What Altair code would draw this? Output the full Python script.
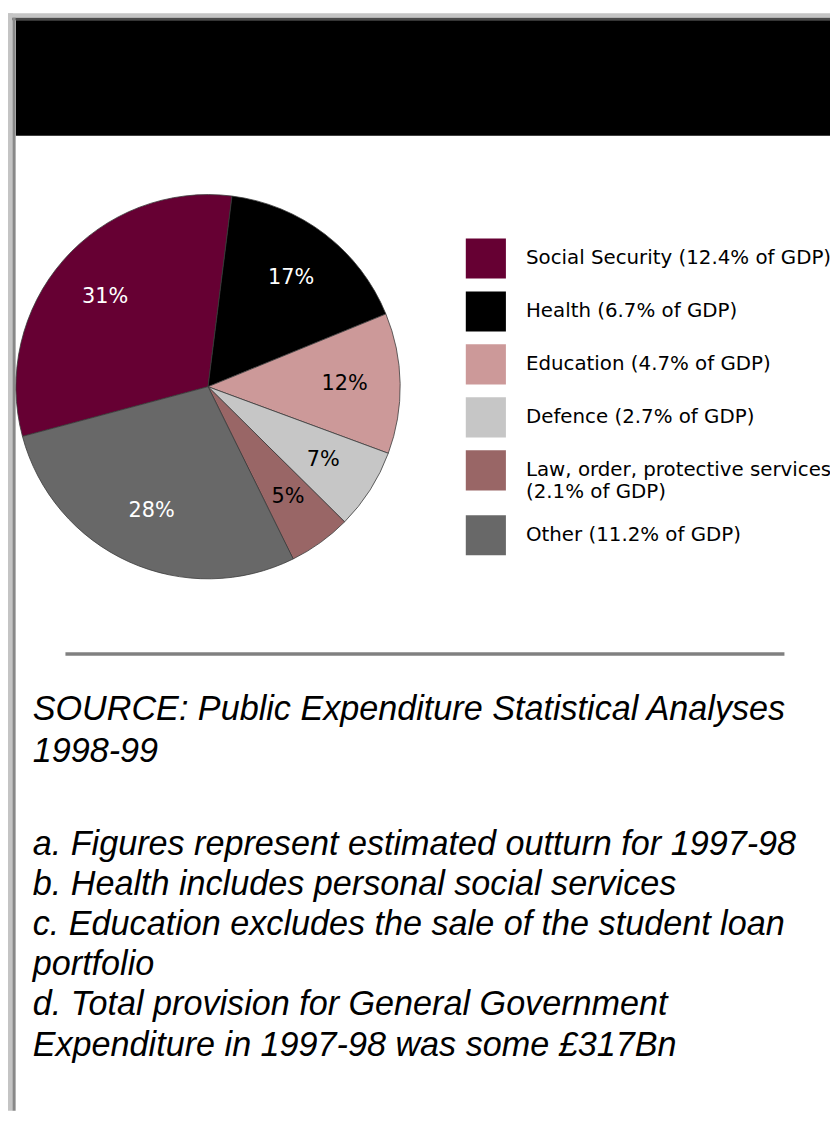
import math
import altair as alt
import pandas as pd

# ---- data ----
categories = [
    "Social Security",
    "Health",
    "Education",
    "Defence",
    "Law, order, protective services",
    "Other",
]
gdp_share = [12.4, 6.7, 4.7, 2.7, 2.1, 11.2]          # % of GDP (legend)
slice_colors = ["#660033", "#000000", "#cc9999", "#c6c6c6", "#996666", "#686868"]
source_lines = ["SOURCE: Public Expenditure Statistical Analyses", "1998-99"]
note_lines = [
    "a. Figures represent estimated outturn for 1997-98",
    "b. Health includes personal social services",
    "c. Education excludes the sale of the student loan",
    "portfolio",
    "d. Total provision for General Government",
    "Expenditure in 1997-98 was some £317Bn",
]

legend_labels = [f"{c} ({g}% of GDP)" for c, g in zip(categories, gdp_share)]
pie_df = pd.DataFrame({
    "category": categories,
    "gdp": gdp_share,
    "label": legend_labels,
    "idx": list(range(len(categories))),
})

W, H = 830, 1108
START = math.radians(255)
one = pd.DataFrame({"k": [0]})

# ---- pie ----
base = (
    alt.Chart(pie_df)
    .transform_joinaggregate(total="sum(gdp)")
    .transform_calculate(pct="toString(round(datum.gdp / datum.total * 100)) + '%'")
    .encode(
        theta=alt.Theta("gdp:Q", stack=True,
                        scale=alt.Scale(range=[START, START + 2 * math.pi])),
        order=alt.Order("idx:Q"),
    )
)

arcs = base.mark_arc(outerRadius=194, stroke="#3a3a3a", strokeWidth=0.8).encode(
    x=alt.value(202),
    y=alt.value(377),
    color=alt.Color(
        "label:N",
        scale=alt.Scale(domain=legend_labels, range=slice_colors),
        legend=alt.Legend(
            title=None,
            orient="none",
            legendX=462,
            legendY=227,
            padding=0,
            symbolType="square",
            symbolSize=1640,
            symbolStrokeWidth=0,
            symbolOpacity=1,
            labelFont="DejaVu Sans",
            labelFontSize=20,
            labelColor="#000000",
            labelOffset=20,
            labelLimit=400,
            rowPadding=12.5,
            labelExpr=(
                "length(datum.label) > 32 ? "
                "[slice(datum.label, 0, indexof(datum.label, ' (')), "
                "slice(datum.label, indexof(datum.label, ' (') + 1)] : datum.label"
            ),
        ),
    ),
)

pct_text = base.mark_text(radius=138, font="DejaVu Sans", fontSize=21).encode(
    x=alt.value(202),
    y=alt.value(377),
    text="pct:N",
    color=alt.condition(
        "indexof(['Social Security', 'Health', 'Other'], datum.category) >= 0",
        alt.value("#ffffff"),
        alt.value("#000000"),
    ),
)

# ---- page decorations ----
def box(x, x2, y, y2, color):
    return alt.Chart(one).mark_rect(color=color).encode(
        x=alt.value(x), x2=alt.value(x2), y=alt.value(y), y2=alt.value(y2)
    )

frame = [
    box(0, 5, 0, H, "#c4c4c4"),
    box(0, W, 0, 4.5, "#c4c4c4"),
    box(4.5, W, 4.5, 7, "#4a4a4a"),
    box(4.7, 7.7, 4.5, H, "#888888"),
    box(8, W, 7, 123.5, "#000000"),
]

rule = alt.Chart(one).mark_rule(color="#808080", strokeWidth=3.5).encode(
    x=alt.value(58), x2=alt.value(784), y=alt.value(647)
)

def text_block(lines, y, line_height):
    d = pd.DataFrame({"txt": ["\n".join(lines)]})
    return alt.Chart(d).mark_text(
        align="left", baseline="alphabetic", lineBreak="\n",
        font="Liberation Sans", fontStyle="italic", fontSize=34.5,
        lineHeight=line_height, color="#000000",
    ).encode(x=alt.value(25), y=alt.value(y), text="txt:N")

src = text_block(source_lines, 713.5, 42)
notes = text_block(note_lines, 849.5, 40.6)

chart = alt.layer(*frame, arcs, pct_text, rule, src, notes).properties(
    width=W,
    height=H,
    autosize=alt.AutoSizeParams(type="none"),
    padding=0,
    background="#ffffff",
).configure_view(stroke=None)

chart.save("out.html", embed_options={"renderer": "svg", "actions": False})
